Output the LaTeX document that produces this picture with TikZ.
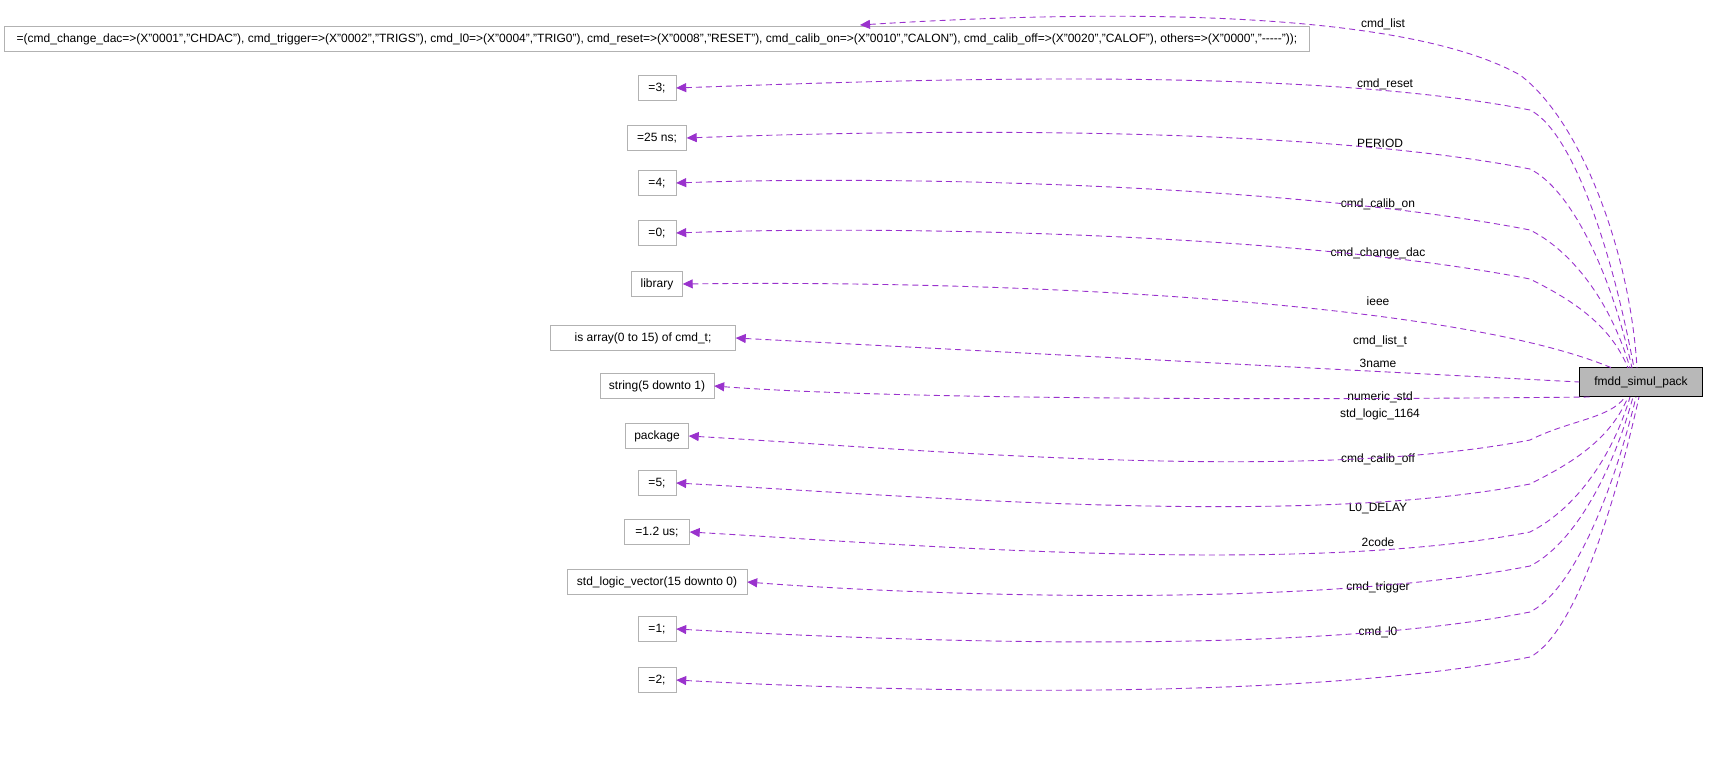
\documentclass[tikz,border=0pt]{standalone}
\usepackage{fontspec}
\setmainfont{Liberation Sans}
\usetikzlibrary{arrows.meta}
\definecolor{edgec}{HTML}{9A32CD}
\begin{document}
\begin{tikzpicture}[x=1pt,y=-1pt,
  leaf/.style={draw=black!30,fill=white,inner sep=0pt,minimum height=25pt,font=\fontsize{12}{14}\selectfont,text=black},
  lbl/.style={font=\fontsize{12}{14}\selectfont,text=black},
  dep/.style={draw=edgec,dash pattern=on 6pt off 4pt,{Triangle[width=9pt,length=10pt]}-,fill=none,line width=0.9pt}]
\useasboundingbox (0,0) rectangle (1709,784);
\node[draw=black,fill=black!28,minimum width=123pt,minimum height=29pt,font=\fontsize{12}{14}\selectfont] (m) at (1641,382) {fmdd\_simul\_pack};
\node[leaf,minimum width=1305pt] (n1) at (657,39) {=(cmd\_change\_dac=>(X"0001","CHDAC"), cmd\_trigger=>(X"0002","TRIGS"), cmd\_l0=>(X"0004","TRIG0"), cmd\_reset=>(X"0008","RESET"), cmd\_calib\_on=>(X"0010","CALON"), cmd\_calib\_off=>(X"0020","CALOF"), others=>(X"0000","-{}-{}-{}-{}-"));};
\node[leaf,minimum width=38pt] (n2) at (657,88) {=3;};
\node[leaf,minimum width=59pt] (n3) at (657,138) {=25 ns;};
\node[leaf,minimum width=38pt] (n4) at (657,183) {=4;};
\node[leaf,minimum width=38pt] (n5) at (657,233) {=0;};
\node[leaf,minimum width=51pt] (n6) at (657,284) {library};
\node[leaf,minimum width=185pt] (n7) at (643,338) {is array(0 to 15) of cmd\_t;};
\node[leaf,minimum width=114pt] (n8) at (657,386) {string(5 downto 1)};
\node[leaf,minimum width=63pt] (n9) at (657,436) {package};
\node[leaf,minimum width=38pt] (n10) at (657,483) {=5;};
\node[leaf,minimum width=65pt] (n11) at (657,532) {=1.2 us;};
\node[leaf,minimum width=180pt] (n12) at (657,582) {std\_logic\_vector(15 downto 0)};
\node[leaf,minimum width=38pt] (n13) at (657,629) {=1;};
\node[leaf,minimum width=38pt] (n14) at (657,680) {=2;};
\node[lbl] (l1) at (1383,24) {cmd\_list};
\node[lbl] (l2) at (1385,84) {cmd\_reset};
\node[lbl] (l3) at (1380,143) {PERIOD};
\node[lbl] (l4) at (1378,204) {cmd\_calib\_on};
\node[lbl] (l5) at (1378,253) {cmd\_change\_dac};
\node[lbl] (l6) at (1378,301) {ieee};
\node[lbl] (l7) at (1380,341) {cmd\_list\_t};
\node[lbl] (l8) at (1378,363) {3name};
\node[lbl] (l9) at (1380,397) {numeric\_std};
\node[lbl] (l9b) at (1380,414) {std\_logic\_1164};
\node[lbl] (l10) at (1378,459) {cmd\_calib\_off};
\node[lbl] (l11) at (1378,508) {L0\_DELAY};
\node[lbl] (l12) at (1378,542) {2code};
\node[lbl] (l13) at (1378,587) {cmd\_trigger};
\node[lbl] (l14) at (1378,632) {cmd\_l0};
\coordinate (s1) at (1637,368);\coordinate (s2) at (1634,368);\coordinate (s3) at (1632,368);
\coordinate (s4) at (1630,368);\coordinate (s5) at (1628,368);\coordinate (s6) at (1612,368);
\coordinate (s8) at (1610,397);\coordinate (s9) at (1625,397);\coordinate (s10) at (1628,397);
\coordinate (s11) at (1630,397);\coordinate (s12) at (1633,397);\coordinate (s13) at (1636,397);\coordinate (s14) at (1639,397);
\draw[dep] (860,25) .. controls (1100,10) and (1400,8) .. (1520,75) .. controls (1580,120) and (1630,250) .. (s1);
\foreach \i/\y/\yl in {2/88/110,3/138/169,4/183/230,5/233/279} {
  \draw[dep] (n\i.east) .. controls (900,\y-8) and (1300,\yl-45) .. (1530,\yl) .. controls (1570,\yl+20) and (1610,{(\yl+368)/2}) .. (s\i);
}
\draw[dep] (n6.east) .. controls (1000,280) and (1450,300) .. (s6);
\draw[dep] (n7.east) -- (m.west);
\draw[dep] (n8.east) .. controls (900,400) and (1300,400) .. (1590,397);
\foreach \i/\y/\yl in {9/436/440,10/483/484,11/532/532,12/582/566,13/629/612,14/680/657} {
  \draw[dep] (n\i.east) .. controls (900,\y+12) and (1300,\yl+45) .. (1530,\yl) .. controls (1570,\yl-20) and (1610,{(\yl+397)/2}) .. (s\i);
}
\end{tikzpicture}
\end{document}
